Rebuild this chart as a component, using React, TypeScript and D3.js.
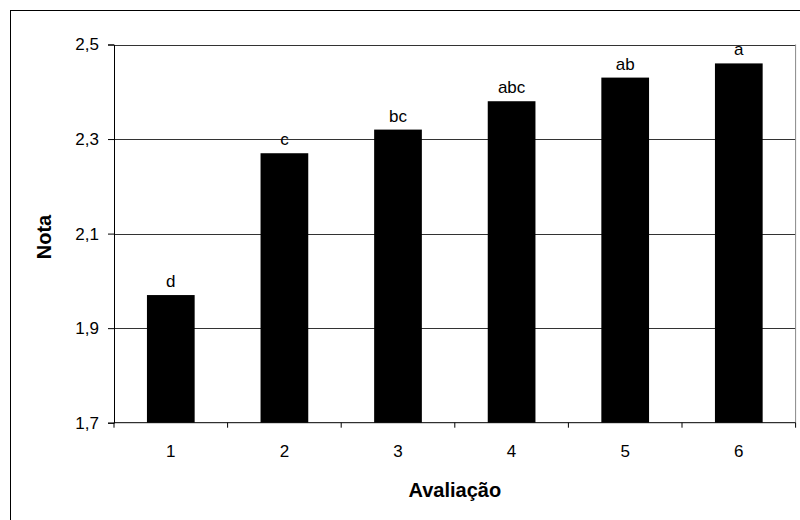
import React, { useEffect, useRef } from 'react';
import * as d3 from 'd3';

const categories = ['1', '2', '3', '4', '5', '6'];
const values = [1.97, 2.27, 2.32, 2.38, 2.43, 2.46];
const letters = ['d', 'c', 'bc', 'abc', 'ab', 'a'];
const yTicks = [1.7, 1.9, 2.1, 2.3, 2.5];

const FONT = '"Liberation Sans", Arial, sans-serif';

const App = () => {
  const ref = useRef<SVGSVGElement>(null);

  useEffect(() => {
    const svg = d3.select(ref.current);
    svg.selectAll('*').remove();

    const left = 114, right = 795.6, top = 44.5, bottom = 422.7;

    // outer frame
    svg.append('rect')
      .attr('x', 10.5).attr('y', 10.5)
      .attr('width', 800).attr('height', 520)
      .attr('fill', 'white').attr('stroke', '#000').attr('stroke-width', 1);

    const x = d3.scaleBand().domain(categories).range([left, right]).paddingInner(0).paddingOuter(0);
    const y = d3.scaleLinear().domain([1.7, 2.5]).range([bottom, top]);

    // gridlines
    svg.append('g')
      .selectAll('line')
      .data(yTicks.slice(1))
      .enter().append('line')
      .attr('x1', left).attr('x2', right)
      .attr('y1', d => Math.round(y(d)) + 0.5).attr('y2', d => Math.round(y(d)) + 0.5)
      .attr('stroke', '#333').attr('stroke-width', 1);

    // plot area right border
    svg.append('line')
      .attr('x1', right).attr('x2', right).attr('y1', top).attr('y2', bottom)
      .attr('stroke', '#888');

    const bw = x.bandwidth() * 0.42;
    svg.append('g')
      .selectAll('rect')
      .data(values)
      .enter().append('rect')
      .attr('x', (d, i) => x(categories[i])! + x.bandwidth() / 2 - bw / 2)
      .attr('y', d => y(d))
      .attr('width', bw)
      .attr('height', d => bottom - y(d))
      .attr('fill', '#000');

    svg.append('g')
      .selectAll('text')
      .data(values)
      .enter().append('text')
      .attr('x', (d, i) => x(categories[i])! + x.bandwidth() / 2)
      .attr('y', d => y(d) - 8)
      .attr('text-anchor', 'middle')
      .attr('font-family', FONT).attr('font-size', 17)
      .text((d, i) => letters[i]);

    // y axis
    const yAxis = svg.append('g')
      .attr('transform', `translate(${left},0)`)
      .call(d3.axisLeft(y).tickValues(yTicks).tickSize(6).tickPadding(9)
        .tickFormat(d => d3.format('.1f')(d as number).replace('.', ',')));
    yAxis.select('.domain').attr('stroke', '#000');
    yAxis.selectAll('.tick line').attr('stroke', '#000');
    yAxis.selectAll('text').attr('font-family', FONT).attr('font-size', 17).attr('fill', '#000');

    // x axis
    const xAxis = svg.append('g')
      .attr('transform', `translate(0,${bottom})`)
      .call(d3.axisBottom(x).tickSize(0).tickPadding(22));
    xAxis.select('.domain').remove();
    xAxis.selectAll('text').attr('font-family', FONT).attr('font-size', 17).attr('fill', '#000');
    svg.append('line')
      .attr('x1', left).attr('x2', right).attr('y1', bottom).attr('y2', bottom)
      .attr('stroke', '#000');
    svg.append('g')
      .selectAll('line')
      .data(categories.concat(['end']))
      .enter().append('line')
      .attr('x1', (d, i) => left + i * x.bandwidth()).attr('x2', (d, i) => left + i * x.bandwidth())
      .attr('y1', bottom).attr('y2', bottom + 5)
      .attr('stroke', '#000');

    svg.append('text')
      .attr('x', (left + right) / 2).attr('y', 497)
      .attr('text-anchor', 'middle')
      .attr('font-family', FONT).attr('font-size', 20).attr('font-weight', 'bold')
      .text('Avaliação');

    svg.append('text')
      .attr('transform', `translate(51,237) rotate(-90)`)
      .attr('text-anchor', 'middle')
      .attr('font-family', FONT).attr('font-size', 20).attr('font-weight', 'bold')
      .text('Nota');
  }, []);

  return <svg ref={ref} width={800} height={520} style={{ position: 'absolute', left: 0, top: 0 }}></svg>;
};

export default App;
